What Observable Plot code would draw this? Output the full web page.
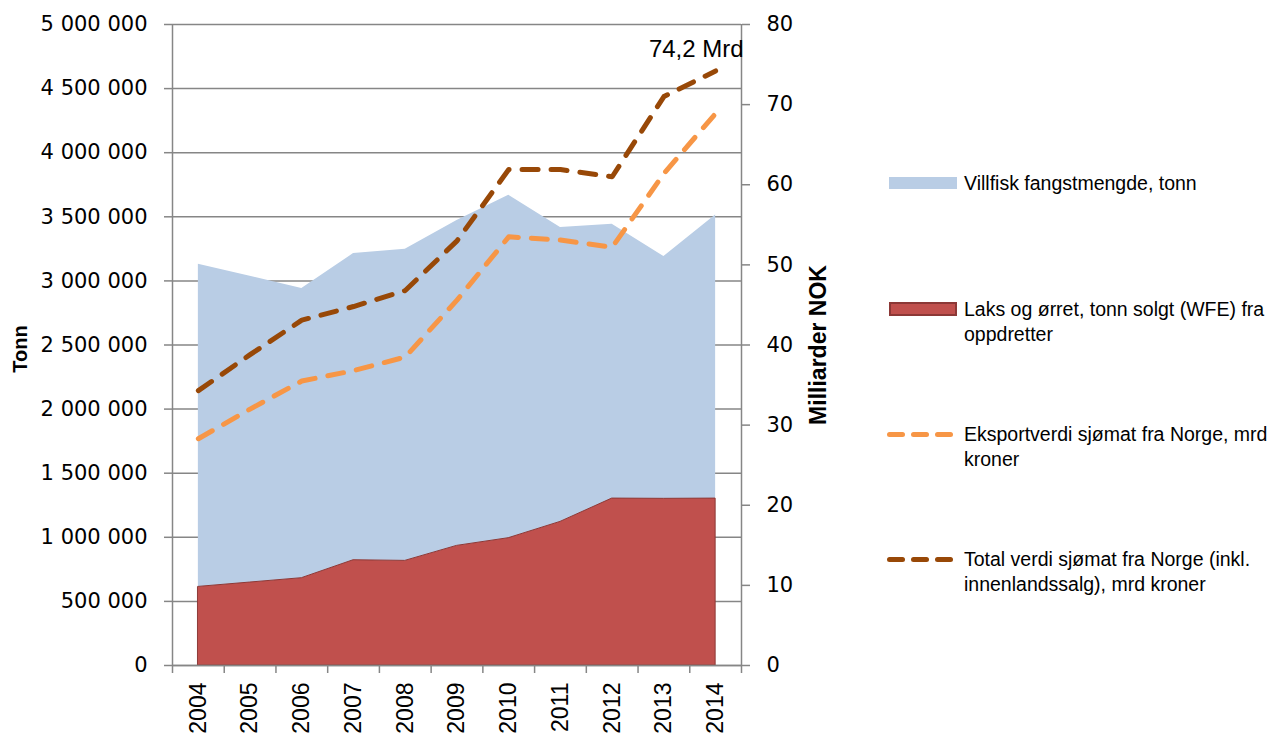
<!DOCTYPE html>
<html><head><meta charset="utf-8">
<script src="https://cdn.jsdelivr.net/npm/d3@7"></script>
<script src="https://cdn.jsdelivr.net/npm/@observablehq/plot@0.6"></script>
<style>
body{margin:0;background:#fff;}
#wrap{position:relative;width:1272px;height:735px;overflow:hidden;}
#chart{position:absolute;left:0;top:0;}
#legend{position:absolute;left:0;top:0;width:1272px;height:735px;font-family:"Liberation Sans",Arial,sans-serif;font-size:19.5px;color:#000;}
.sw{position:absolute;left:889px;width:68px;}
.txt{position:absolute;left:964px;white-space:nowrap;line-height:25px;}
.dashes{position:absolute;left:887px;width:66px;height:5px;display:flex;gap:6px;}
.dashes span{display:block;width:18px;height:5px;border-radius:2.5px;}
</style></head><body>
<div id="wrap"><div id="chart"></div><div id="legend"></div></div>
<script>
const years = [2004, 2005, 2006, 2007, 2008, 2009, 2010, 2011, 2012, 2013, 2014];
const villfisk = [2517000, 2390000, 2259000, 2392000, 2431000, 2539000, 2675000, 2296000, 2140000, 1890000, 2213000];
const laks = [613000, 647000, 681000, 821000, 816000, 933000, 993000, 1120000, 1302000, 1300000, 1302000];
const eksport = [28.3, 32.0, 35.5, 36.8, 38.5, 45.6, 53.5, 53.1, 52.2, 61.4, 68.9];
const totalVerdi = [34.3, 38.8, 43.1, 44.8, 46.8, 53.0, 61.9, 61.9, 61.0, 71.0, 74.2];
const leftTicks = [0, 500000, 1000000, 1500000, 2000000, 2500000, 3000000, 3500000, 4000000, 4500000, 5000000];
const rightTicks = [0, 10, 20, 30, 40, 50, 60, 70, 80];
const seriesNames = [
  "Villfisk fangstmengde, tonn",
  "Laks og ørret, tonn solgt (WFE) fra<br>oppdretter",
  "Eksportverdi sjømat fra Norge, mrd<br>kroner",
  "Total verdi sjømat fra Norge (inkl.<br>innenlandssalg), mrd kroner"
];
const colors = ["#B9CDE5", "#C0504D", "#F79646", "#984807"];
const yLeftTitle = "Tonn";
const yRightTitle = "Milliarder NOK";

const SCALE = 5000000 / 80;
const rows = years.map((year, i) => ({year, villfisk: villfisk[i], laks: laks[i], eksport: eksport[i], total: totalVerdi[i]}));
const boundaries = d3.range(years[0] - 0.5, years[years.length - 1] + 1, 1);
const gray = "#868686";
const fmtTonn = d => d3.format(",")(d).replace(/,/g, "\u00a0");
const last = rows[rows.length - 1];
const annot = [{year: last.year, v: last.total, label: String(last.total).replace(".", ",") + " Mrd"}];

const chart = Plot.plot({
  width: 850, height: 735,
  marginLeft: 172, marginRight: 109, marginTop: 24, marginBottom: 70,
  style: {fontFamily: "DejaVu Sans, sans-serif", fontSize: "21px", color: "#000", background: "transparent"},
  x: {type: "linear", domain: [years[0] - 0.5, years[years.length - 1] + 0.5]},
  y: {domain: [0, 5000000]},
  marks: [
    Plot.gridY({ticks: leftTicks, stroke: gray, strokeOpacity: 1, strokeWidth: 1.5}),
    Plot.areaY(rows, {x: "year", y1: "laks", y2: d => d.laks + d.villfisk, fill: colors[0]}),
    Plot.areaY(rows, {x: "year", y: "laks", fill: colors[1], stroke: "#8C3836", strokeWidth: 1}),
    Plot.ruleX([boundaries[0], boundaries[boundaries.length - 1]], {stroke: gray, strokeWidth: 1.5}),
    Plot.ruleY([0], {stroke: gray, strokeWidth: 1.5}),
    Plot.axisY({ticks: leftTicks, tickFormat: fmtTonn, tickSize: 8, tickPadding: 17, stroke: gray, strokeWidth: 1.5, strokeOpacity: 1, fontSize: 21, fontFamily: "DejaVu Sans", label: null}),
    Plot.axisY({anchor: "right", ticks: rightTicks.map(v => v * SCALE), tickFormat: d => String(d / SCALE), tickSize: 8, tickPadding: 17, stroke: gray, strokeWidth: 1.5, strokeOpacity: 1, fontSize: 21, fontFamily: "DejaVu Sans", label: null}),
    Plot.axisX({ticks: boundaries, tickFormat: () => "", tickSize: 8, stroke: gray, strokeWidth: 1.5, strokeOpacity: 1, label: null}),
    Plot.axisX({ticks: years, tickFormat: d => String(d), tickSize: 0, tickPadding: 17, tickRotate: -90, fontSize: 23, fontFamily: "Liberation Sans, Arial", label: null}),
    Plot.lineY(rows, {x: "year", y: d => d.eksport * SCALE, stroke: colors[2], strokeWidth: 5, strokeDasharray: "16,13", strokeLinecap: "round", strokeLinejoin: "round"}),
    Plot.lineY(rows, {x: "year", y: d => d.total * SCALE, stroke: colors[3], strokeWidth: 5, strokeDasharray: "16,13", strokeLinecap: "round", strokeLinejoin: "round"}),
    Plot.text(annot, {x: "year", y: d => d.v * SCALE, text: "label", textAnchor: "end", dx: 28, dy: -22, fontSize: 24, fontFamily: "Liberation Sans, Arial", fill: "#000"}),
    Plot.text([yLeftTitle], {frameAnchor: "left", text: d => d, rotate: -90, textAnchor: "middle", dx: -152, dy: 4, fontWeight: "bold", fontSize: 20, fontFamily: "Liberation Sans, Arial", fill: "#000"}),
    Plot.text([yRightTitle], {frameAnchor: "right", text: d => d, rotate: -90, textAnchor: "middle", dx: 77, fontWeight: "bold", fontSize: 23, fontFamily: "Liberation Sans, Arial", fill: "#000"})
  ]
});
document.getElementById("chart").appendChild(chart);

// legend (HTML, to the right of the chart)
const legend = document.getElementById("legend");
const itemY = [183, 309, 434, 559];
seriesNames.forEach((name, i) => {
  const y = itemY[i];
  if (i === 0) {
    const s = document.createElement("div"); s.className = "sw";
    s.style.cssText = `top:${y - 6}px;height:12px;background:${colors[0]};`;
    legend.appendChild(s);
  } else if (i === 1) {
    const s = document.createElement("div"); s.className = "sw";
    s.style.cssText = `top:${y - 7}px;height:10px;background:${colors[1]};border:2px solid #8C3836;width:64px;`;
    legend.appendChild(s);
  } else {
    const s = document.createElement("div"); s.className = "dashes";
    s.style.top = (y - 2.5) + "px";
    s.innerHTML = `<span style="background:${colors[i]}"></span><span style="background:${colors[i]}"></span><span style="background:${colors[i]}"></span>`;
    legend.appendChild(s);
  }
  const t = document.createElement("div"); t.className = "txt";
  t.style.top = (y - 12.5) + "px";
  t.innerHTML = name;
  legend.appendChild(t);
});
</script>
</body></html>
